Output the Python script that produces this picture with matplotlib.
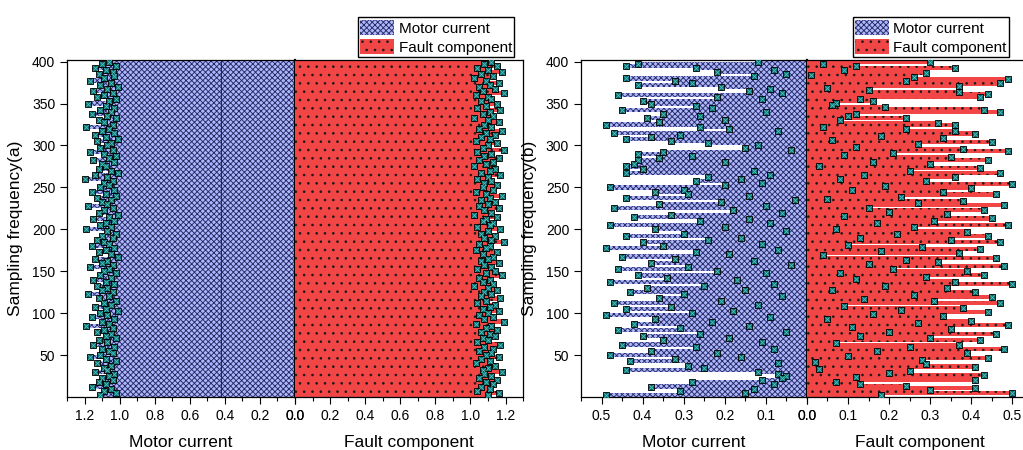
import numpy as np
import matplotlib.pyplot as plt
from matplotlib.patches import Patch
from matplotlib.ticker import AutoMinorLocator

plt.rcParams['font.family'] = ['Liberation Sans', 'DejaVu Sans']
plt.rcParams['hatch.linewidth'] = 0.65

# values listed from the top bar (400) down to the bottom one
motor_a = [
    1.06, 1.10, 1.02, 1.14, 1.08, 1.04, 1.12, 1.03, 1.09, 1.17,
    1.05, 1.11, 1.01, 1.07, 1.15, 1.04, 1.09, 1.13, 1.02, 1.06,
    1.18, 1.08, 1.03, 1.11, 1.05, 1.16, 1.07, 1.02, 1.12, 1.09,
    1.04, 1.19, 1.06, 1.10, 1.03, 1.14, 1.08, 1.01, 1.13, 1.05,
    1.07, 1.11, 1.04, 1.17, 1.09, 1.02, 1.06, 1.15, 1.03, 1.10,
    1.08, 1.12, 1.05, 1.01, 1.14, 1.07, 1.20, 1.04, 1.09, 1.06,
    1.11, 1.03, 1.16, 1.08, 1.02, 1.13, 1.05, 1.10, 1.07, 1.18,
    1.04, 1.09, 1.12, 1.01, 1.06, 1.15, 1.03, 1.08, 1.11, 1.05,
    1.19, 1.07, 1.02, 1.10, 1.04, 1.13, 1.09, 1.06, 1.16, 1.03,
    1.08, 1.12, 1.05, 1.01, 1.14, 1.07, 1.10, 1.04, 1.17, 1.06,
    1.09, 1.02, 1.11, 1.05, 1.15, 1.08, 1.03, 1.13, 1.07, 1.10,
    1.04, 1.18, 1.06, 1.12, 1.02, 1.09, 1.05, 1.14, 1.08, 1.01,
    1.11, 1.07, 1.16, 1.03, 1.10, 1.06, 1.19, 1.04, 1.09, 1.13,
    1.05, 1.08, 1.02, 1.12, 1.07, 1.15, 1.03, 1.10, 1.06, 1.04,
    1.11, 1.17, 1.08, 1.02, 1.13, 1.05, 1.09, 1.07, 1.14, 1.03,
    1.06, 1.10, 1.04, 1.12, 1.08, 1.16, 1.05, 1.09, 1.02, 1.11,
]
fault_a = [
    1.12, 1.08, 1.15, 1.04, 1.10, 1.18, 1.06, 1.13, 1.02, 1.09,
    1.16, 1.11, 1.05, 1.14, 1.07, 1.19, 1.03, 1.10, 1.12, 1.06,
    1.15, 1.09, 1.04, 1.17, 1.11, 1.07, 1.13, 1.02, 1.10, 1.16,
    1.08, 1.12, 1.05, 1.18, 1.09, 1.14, 1.06, 1.11, 1.03, 1.15,
    1.10, 1.07, 1.19, 1.04, 1.12, 1.08, 1.16, 1.05, 1.13, 1.09,
    1.02, 1.14, 1.11, 1.06, 1.17, 1.10, 1.04, 1.12, 1.08, 1.15,
    1.07, 1.13, 1.03, 1.09, 1.18, 1.11, 1.06, 1.14, 1.10, 1.05,
    1.16, 1.08, 1.12, 1.02, 1.15, 1.09, 1.07, 1.13, 1.11, 1.04,
    1.17, 1.10, 1.06, 1.14, 1.08, 1.12, 1.19, 1.05, 1.11, 1.09,
    1.03, 1.15, 1.07, 1.13, 1.10, 1.06, 1.16, 1.08, 1.12, 1.04,
    1.14, 1.09, 1.18, 1.05, 1.11, 1.07, 1.13, 1.02, 1.10, 1.15,
    1.08, 1.12, 1.06, 1.17, 1.09, 1.04, 1.14, 1.11, 1.07, 1.16,
    1.10, 1.05, 1.13, 1.08, 1.19, 1.03, 1.12, 1.09, 1.15, 1.06,
    1.11, 1.14, 1.07, 1.10, 1.04, 1.17, 1.08, 1.13, 1.05, 1.12,
    1.09, 1.16, 1.06, 1.11, 1.03, 1.14, 1.10, 1.07, 1.18, 1.08,
    1.12, 1.05, 1.15, 1.09, 1.13, 1.06, 1.11, 1.04, 1.16, 1.10,
]
motor_b = [
    0.12, 0.41, 0.44, 0.27, 0.08, 0.22, 0.05, 0.13, 0.44, 0.32,
    0.28, 0.41, 0.21, 0.09, 0.14, 0.06, 0.46, 0.22, 0.11, 0.40,
    0.38, 0.27, 0.23, 0.45, 0.10, 0.35, 0.26, 0.39, 0.20, 0.36,
    0.49, 0.26, 0.19, 0.07, 0.47, 0.31, 0.38, 0.44, 0.33, 0.24,
    0.12, 0.15, 0.04, 0.35, 0.41, 0.28, 0.36, 0.41, 0.20, 0.42,
    0.44, 0.40, 0.13, 0.44, 0.09, 0.24, 0.16, 0.27, 0.11, 0.20,
    0.48, 0.30, 0.37, 0.29, 0.14, 0.44,
    0.03, 0.21, 0.36, 0.10, 0.47, 0.18, 0.06, 0.33, 0.42, 0.14,
    0.26, 0.09, 0.48, 0.20, 0.37, 0.05, 0.30, 0.44, 0.16, 0.24,
    0.40, 0.11, 0.35, 0.49, 0.07, 0.27, 0.19, 0.45, 0.32, 0.13,
    0.38, 0.04, 0.29, 0.46, 0.22, 0.10, 0.41, 0.34, 0.17, 0.48,
    0.08, 0.25, 0.39, 0.15, 0.43, 0.30, 0.06, 0.36, 0.21, 0.47,
    0.12, 0.33, 0.44, 0.18, 0.28, 0.49, 0.09, 0.37, 0.23, 0.42,
    0.14, 0.31, 0.46, 0.05, 0.26, 0.40, 0.19, 0.35, 0.11, 0.45,
    0.27, 0.08, 0.38, 0.22, 0.48, 0.16, 0.32, 0.43, 0.07, 0.29,
    0.25, 0.44, 0.12, 0.07, 0.05, 0.06, 0.11, 0.28, 0.08, 0.38,
    0.13, 0.31, 0.15, 0.49,
]
fault_b = [
    0.30, 0.04, 0.12, 0.36, 0.09, 0.29, 0.01, 0.26, 0.49, 0.24,
    0.47, 0.37, 0.05, 0.15, 0.37, 0.44, 0.42, 0.13, 0.16, 0.07,
    0.06, 0.19, 0.43, 0.47, 0.12, 0.10, 0.24, 0.08, 0.32, 0.36,
    0.04, 0.24, 0.36,
    0.41, 0.18, 0.33, 0.06, 0.45, 0.27, 0.12, 0.38, 0.49, 0.21,
    0.09, 0.35, 0.44, 0.16, 0.30, 0.03, 0.42, 0.25, 0.47, 0.14,
    0.36, 0.08, 0.29, 0.50, 0.19, 0.40, 0.11, 0.33, 0.46, 0.23,
    0.05, 0.38, 0.27, 0.48, 0.15, 0.43, 0.20, 0.34, 0.09, 0.45,
    0.31, 0.17, 0.49, 0.26, 0.07, 0.39, 0.22, 0.44, 0.13, 0.35,
    0.47, 0.10, 0.28, 0.42, 0.18, 0.37, 0.04, 0.46, 0.24, 0.32,
    0.15, 0.48, 0.21, 0.39, 0.08, 0.43, 0.29, 0.12, 0.36, 0.50,
    0.19, 0.34, 0.06, 0.41, 0.26, 0.45, 0.14, 0.31, 0.47, 0.09,
    0.38, 0.23, 0.44, 0.16, 0.33, 0.05, 0.40, 0.27, 0.49, 0.11,
    0.35, 0.20, 0.46, 0.13, 0.30, 0.42, 0.07, 0.37, 0.25, 0.48,
    0.17, 0.39, 0.10, 0.44, 0.28,
    0.02, 0.29, 0.41, 0.03, 0.25, 0.20, 0.43, 0.12, 0.41, 0.07,
    0.13, 0.24, 0.41, 0.30, 0.50, 0.18,
]

labels = ['Motor current', 'Fault component']
blue, blue_hatch = '#aeb6ff', '#252a60'
red, red_hatch = '#f24545', '#1a1a1a'
mk_face, mk_edge, mk_x = '#0c6565', '#000000', '#4cc4c4'

fig = plt.figure(figsize=(10.23, 4.5), dpi=100)
bottom, height = 0.1178, 0.7489


def side(ax, vals, face, hatch, hcol):
    n = len(vals)
    y = np.linspace(400, 400 / n, n)
    ax.barh(y, vals, height=5.0, color=face, edgecolor=hcol, linewidth=0, hatch=hatch)
    ax.scatter(vals, y, marker='s', s=22, c=mk_face, edgecolors=mk_edge, linewidths=0.6, zorder=3)
    ax.scatter(vals, y, marker='x', s=10, c=mk_x, linewidths=0.6, zorder=4)


def panel(x0, w, motor, fault, xmax, step, tag, leg_loc, leg_anchor):
    axl = fig.add_axes([x0, bottom, w, height])
    axr = fig.add_axes([x0 + w, bottom, w, height], sharey=axl)
    side(axl, motor, blue, 'xxxxxx', blue_hatch)
    side(axr, fault, red, '..', red_hatch)
    axl.set_xlim(xmax, 0)
    axr.set_xlim(0, xmax)
    axl.set_ylim(0, 402)
    axl.set_yticks(np.arange(50, 401, 50))
    ticks = np.arange(0, xmax, step)
    for ax in (axl, axr):
        ax.set_xticks(ticks)
        ax.set_xticklabels(['%.1f' % t for t in ticks])
        ax.xaxis.set_minor_locator(AutoMinorLocator(2))
        ax.tick_params(direction='out', labelsize=10, length=5, width=0.8)
        ax.tick_params(which='minor', direction='out', length=3, width=0.8)
        for s in ax.spines.values():
            s.set_linewidth(0.9)
    axr.tick_params(axis='y', left=False, labelleft=False)
    axr.spines['left'].set_visible(False)
    axl.spines['right'].set_linewidth(1.6)
    axl.set_ylabel('Sampling frequency(%s)' % tag, fontsize=12.5, labelpad=6)
    axl.set_xlabel(labels[0], fontsize=12.5, labelpad=9)
    axr.set_xlabel(labels[1], fontsize=12.5, labelpad=9)
    handles = [Patch(facecolor=blue, edgecolor=blue_hatch, hatch='xxxxxx', linewidth=0),
               Patch(facecolor=red, edgecolor=red_hatch, hatch='..', linewidth=0)]
    axr.legend(handles, labels, loc=leg_loc, bbox_to_anchor=leg_anchor, fontsize=11,
               fancybox=False, edgecolor='black', framealpha=1, handlelength=2.2,
               handleheight=1.2, borderpad=0.15, labelspacing=0.2, handletextpad=0.3,
               borderaxespad=0.2)
    return axl, axr


axl, axr = panel(0.0655, 0.2229, motor_a, fault_a, 1.3, 0.2, 'a', 'lower right', (0.975, 1.0))
axl.axvline(0.42, color='#2a2a40', linewidth=0.8, zorder=2)
panel(0.5679, 0.2209, motor_b, fault_b, 0.55, 0.1, 'b', 'lower left', (0.19, 1.0))

fig.savefig('out.png', dpi=100)
